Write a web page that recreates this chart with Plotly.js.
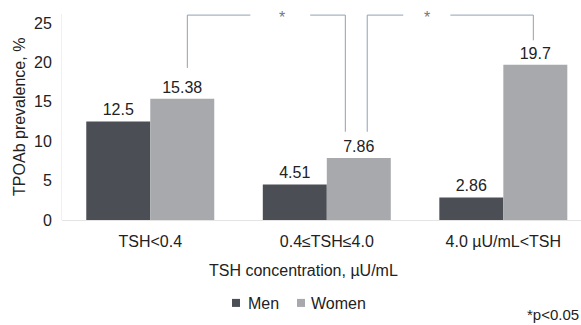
<!DOCTYPE html>
<html>
<head>
<meta charset="utf-8">
<script src="https://cdn.plot.ly/plotly-3.0.1.min.js"></script>
<style>html,body{margin:0;padding:0;background:#fff;}#chart{width:581px;height:325px;}</style>
</head>
<body>
<div id="chart"></div>
<script>
const categories = ["TSH<0.4", "0.4≤TSH≤4.0", "4.0 µU/mL<TSH"];
const seriesNames = ["Men", "Women"];
const men = [12.5, 4.51, 2.86];
const women = [15.38, 7.86, 19.7];
const menLabels = ["12.5", "4.51", "2.86"];
const womenLabels = ["15.38", "7.86", "19.7"];
const yTicks = [0, 5, 10, 15, 20, 25];
const yTitle = "TPOAb prevalence, %";
const xTitle = "TSH concentration, µU/mL";
const note = "*p<0.05";

const FONT = "Liberation Sans, Arial, sans-serif";
const txt = "#222";
const menColor = "#4c4e56", womenColor = "#a8a9ad";

const traces = [
  {type: "bar", name: seriesNames[0], x: categories, y: men, text: menLabels,
   textposition: "outside", cliponaxis: false, textfont: {size: 16, color: txt, family: FONT},
   marker: {color: menColor}, hoverinfo: "none", showlegend: false},
  {type: "bar", name: seriesNames[1], x: categories, y: women, text: womenLabels,
   textposition: "outside", cliponaxis: false, textfont: {size: 16, color: txt, family: FONT},
   marker: {color: womenColor}, hoverinfo: "none", showlegend: false}
];

const lineStyle = {color: "#8fa2b4", width: 1};
const seg = (x0, y0, x1, y1) => ({type: "line", xref: "x", yref: "y", x0, y0, x1, y1, line: lineStyle, layer: "above"});
const box = (x0, x1, color) => ({type: "rect", xref: "paper", yref: "paper", x0, x1, y0: -0.422, y1: -0.383,
  fillcolor: color, line: {width: 0}});

const layout = {
  width: 581, height: 325,
  margin: {l: 62, r: 0, t: 14, b: 105},
  paper_bgcolor: "#fff", plot_bgcolor: "#fff",
  font: {family: FONT, size: 16, color: txt},
  barmode: "group", bargap: 0.275, bargroupgap: 0,
  showlegend: false,
  xaxis: {type: "category", range: [-0.5, 2.44], showgrid: false, zeroline: false,
          showline: false, ticks: "", ticklabelstandoff: 10, tickfont: {size: 16, family: FONT, color: txt}, fixedrange: true},
  yaxis: {range: [0, 26.14], tickvals: yTicks, showgrid: false, zeroline: true,
          zerolinecolor: "#e4e4e4", zerolinewidth: 1, showline: true, linecolor: "#f0f0f0",
          ticks: "", tickfont: {size: 16, family: FONT, color: txt}, ticklabelstandoff: 6, fixedrange: true},
  shapes: [
    seg(0.21, 19.3, 0.21, 26.0), seg(0.21, 26.0, 0.567, 26.0),
    seg(0.906, 26.0, 1.105, 26.0), seg(1.105, 26.0, 1.105, 11.2),
    seg(1.229, 11.2, 1.229, 26.0), seg(1.229, 26.0, 1.433, 26.0),
    seg(1.70, 26.0, 2.17, 26.0), seg(2.17, 26.0, 2.17, 22.8),
    box(0.3276, 0.343, menColor), box(0.4528, 0.4682, womenColor)
  ],
  annotations: [
    {text: "*", xref: "x", yref: "y", x: 0.748, y: 26.0, yanchor: "middle", yshift: -2, showarrow: false, font: {size: 16, color: "#777"}},
    {text: "*", xref: "x", yref: "y", x: 1.569, y: 26.0, yanchor: "middle", yshift: -2, showarrow: false, font: {size: 16, color: "#777"}},
    {text: yTitle, xref: "paper", yref: "paper", x: -0.083, xanchor: "center", y: 0.5, yanchor: "middle",
     textangle: -90, showarrow: false, font: {size: 16, color: txt}},
    {text: xTitle, xref: "paper", yref: "paper", x: 0.466, xanchor: "center", y: -0.243, yanchor: "middle",
     showarrow: false, font: {size: 16, color: txt}},
    {text: seriesNames[0], xref: "paper", yref: "paper", x: 0.354, xanchor: "left", y: -0.403, yanchor: "middle",
     showarrow: false, font: {size: 16, color: txt}},
    {text: seriesNames[1], xref: "paper", yref: "paper", x: 0.476, xanchor: "left", y: -0.403, yanchor: "middle",
     showarrow: false, font: {size: 16, color: txt}},
    {text: note, xref: "paper", yref: "paper", x: 1, xanchor: "right", y: -0.461, yanchor: "middle",
     showarrow: false, font: {size: 15, color: txt}}
  ]
};

Plotly.newPlot("chart", traces, layout, {displayModeBar: false, staticPlot: true});
</script>
</body>
</html>
